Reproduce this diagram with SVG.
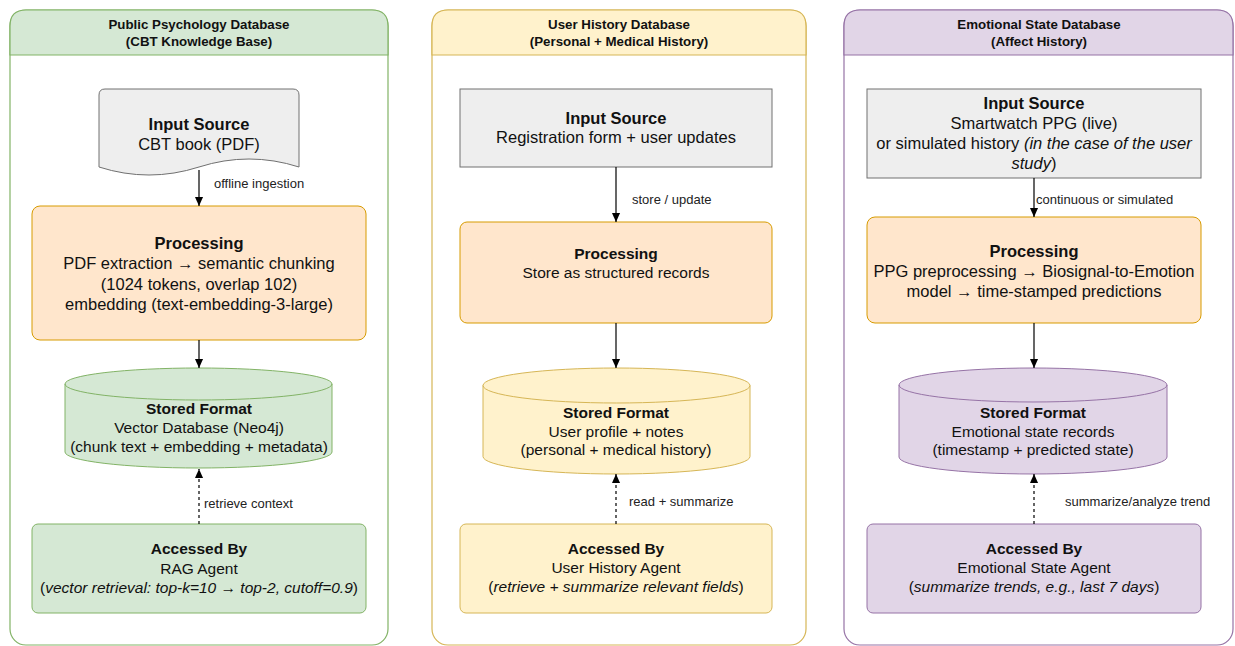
<svg xmlns="http://www.w3.org/2000/svg" width="1235" height="646" viewBox="0 0 1235 646">
  <defs>
    <marker id="arrow" viewBox="0 0 10 10" refX="10" refY="5" markerWidth="9" markerHeight="9" markerUnits="userSpaceOnUse" orient="auto">
      <path d="M0,0.5 L10,5 L0,9.5 Z" fill="#000"/>
    </marker>
    <style>
      text { font-family: "Liberation Sans", Arial, Helvetica, sans-serif; fill: #111; text-anchor: middle; }
      .hdr { font-size: 13.3px; font-weight: bold; }
      .big-b { font-size: 16.5px; font-weight: bold; }
      .big { font-size: 16.5px; }
      .sm-b { font-size: 15.5px; font-weight: bold; }
      .sm { font-size: 15.5px; }
      .lbl { font-size: 13px; text-anchor: start; fill: #222; }
      .it { font-style: italic; }
      .edge { stroke: #000; stroke-width: 1.2; fill: none; marker-end: url(#arrow); }
      .dash { stroke-dasharray: 3 3; }
      .green { fill: #d5e8d4; stroke: #82b366; }
      .yellow { fill: #fff2cc; stroke: #d6b656; }
      .purple { fill: #e1d5e7; stroke: #9673a6; }
      .orange { fill: #ffe6cc; stroke: #d79b00; }
      .gray { fill: #eeeeee; stroke: #707070; }
      .frame { fill: #ffffff; stroke-width: 1.2; }
    </style>
  </defs>

  <!-- Panel 1: Public Psychology Database -->
  <g id="panel-public">
    <rect class="frame" x="10" y="10" width="378" height="635" rx="16" stroke="#82b366"/>
    <path d="M10,55 L10,26 Q10,10 26,10 L372,10 Q388,10 388,26 L388,55 Z" fill="#d5e8d4" stroke="#82b366" stroke-width="1.2"/>
    <text class="hdr" x="199" y="29">Public Psychology Database</text>
    <text class="hdr" x="199" y="46">(CBT Knowledge Base)</text>
  </g>
  <g id="p1-input">
    <path class="gray" d="M99,95 Q99,89 105,89 L293,89 Q299,89 299,95 L299,167 Q249,151 199,167 Q149,183 99,167 Z"/>
    <text class="big-b" x="199" y="130">Input Source</text>
    <text class="big" x="199" y="150">CBT book (PDF)</text>
  </g>
  <g id="p1-processing">
    <rect class="orange" x="32" y="206" width="334" height="134" rx="8"/>
    <text class="big-b" x="199" y="249">Processing</text>
    <text class="big" x="199" y="269">PDF extraction → semantic chunking</text>
    <text class="big" x="199" y="290">(1024 tokens, overlap 102)</text>
    <text class="big" x="199" y="310">embedding (text-embedding-3-large)</text>
  </g>
  <g id="p1-stored">
    <path class="green" d="M65,384 A133.5,16 0 0 1 332,384 L332,452 A133.5,16 0 0 1 65,452 Z"/>
    <path d="M65,384 A133.5,16 0 0 0 332,384" fill="none" stroke="#82b366"/>
    <text class="sm-b" x="199" y="414">Stored Format</text>
    <text class="sm" x="199" y="433">Vector Database (Neo4j)</text>
    <text class="sm" x="199" y="452">(chunk text + embedding + metadata)</text>
  </g>
  <g id="p1-access">
    <rect class="green" x="32" y="524" width="334" height="89" rx="6"/>
    <text class="sm-b" x="199" y="554">Accessed By</text>
    <text class="sm" x="199" y="574">RAG Agent</text>
    <text class="sm" x="199" y="593">(<tspan class="it">vector retrieval: top-k=10 → top-2, cutoff=0.9</tspan>)</text>
  </g>

  <!-- Panel 2: User History Database -->
  <g id="panel-user">
    <rect class="frame" x="432" y="10" width="374" height="635" rx="16" stroke="#d6b656"/>
    <path d="M432,55 L432,26 Q432,10 448,10 L790,10 Q806,10 806,26 L806,55 Z" fill="#fff2cc" stroke="#d6b656" stroke-width="1.2"/>
    <text class="hdr" x="619" y="29">User History Database</text>
    <text class="hdr" x="619" y="46">(Personal + Medical History)</text>
  </g>
  <g id="p2-input">
    <rect class="gray" x="460" y="89" width="312" height="78"/>
    <text class="big-b" x="616" y="124">Input Source</text>
    <text class="big" x="616" y="143">Registration form + user updates</text>
  </g>
  <g id="p2-processing">
    <rect class="orange" x="460" y="222" width="312" height="101" rx="7"/>
    <text class="sm-b" x="616" y="259">Processing</text>
    <text class="sm" x="616" y="278">Store as structured records</text>
  </g>
  <g id="p2-stored">
    <path class="yellow" d="M483,385.5 A133.5,17.5 0 0 1 750,385.5 L750,456.5 A133.5,17.5 0 0 1 483,456.5 Z"/>
    <path d="M483,385.5 A133.5,17.5 0 0 0 750,385.5" fill="none" stroke="#d6b656"/>
    <text class="sm-b" x="616" y="418">Stored Format</text>
    <text class="sm" x="616" y="437">User profile + notes</text>
    <text class="sm" x="616" y="455">(personal + medical history)</text>
  </g>
  <g id="p2-access">
    <rect class="yellow" x="460" y="524" width="312" height="89" rx="6"/>
    <text class="sm-b" x="616" y="554">Accessed By</text>
    <text class="sm" x="616" y="573">User History Agent</text>
    <text class="sm" x="616" y="592">(<tspan class="it">retrieve + summarize relevant fields</tspan>)</text>
  </g>

  <!-- Panel 3: Emotional State Database -->
  <g id="panel-emotion">
    <rect class="frame" x="844" y="10" width="389" height="635" rx="16" stroke="#9673a6"/>
    <path d="M844,55 L844,26 Q844,10 860,10 L1217,10 Q1233,10 1233,26 L1233,55 Z" fill="#e1d5e7" stroke="#9673a6" stroke-width="1.2"/>
    <text class="hdr" x="1039" y="29">Emotional State Database</text>
    <text class="hdr" x="1039" y="46">(Affect History)</text>
  </g>
  <g id="p3-input">
    <rect class="gray" x="867" y="89" width="334" height="89"/>
    <text class="big-b" x="1034" y="109">Input Source</text>
    <text class="big" x="1034" y="129">Smartwatch PPG (live)</text>
    <text class="big" x="1034" y="149">or simulated history <tspan class="it">(in the case of the user</tspan></text>
    <text class="big" x="1034" y="169"><tspan class="it">study</tspan>)</text>
  </g>
  <g id="p3-processing">
    <rect class="orange" x="867" y="217" width="334" height="106" rx="8"/>
    <text class="big-b" x="1034" y="257">Processing</text>
    <text class="big" x="1034" y="277">PPG preprocessing → Biosignal-to-Emotion</text>
    <text class="big" x="1034" y="297">model → time-stamped predictions</text>
  </g>
  <g id="p3-stored">
    <path class="purple" d="M899,385 A134,17 0 0 1 1167,385 L1167,457 A134,17 0 0 1 899,457 Z"/>
    <path d="M899,385 A134,17 0 0 0 1167,385" fill="none" stroke="#9673a6"/>
    <text class="sm-b" x="1033" y="418">Stored Format</text>
    <text class="sm" x="1033" y="437">Emotional state records</text>
    <text class="sm" x="1033" y="455">(timestamp + predicted state)</text>
  </g>
  <g id="p3-access">
    <rect class="purple" x="867" y="524" width="334" height="89" rx="6"/>
    <text class="sm-b" x="1034" y="554">Accessed By</text>
    <text class="sm" x="1034" y="573">Emotional State Agent</text>
    <text class="sm" x="1034" y="592">(<tspan class="it">summarize trends, e.g., last 7 days</tspan>)</text>
  </g>

  <!-- Connectors -->
  <g id="connectors">
    <line class="edge" x1="199" y1="170" x2="199" y2="206"/>
    <text class="lbl" x="214" y="188">offline ingestion</text>
    <line class="edge" x1="199" y1="340" x2="199" y2="368"/>
    <line class="edge dash" x1="199" y1="524" x2="199" y2="469"/>
    <text class="lbl" x="204" y="508">retrieve context</text>

    <line class="edge" x1="616" y1="167" x2="616" y2="222"/>
    <text class="lbl" x="632" y="204">store / update</text>
    <line class="edge" x1="616" y1="323" x2="616" y2="368"/>
    <line class="edge dash" x1="616" y1="524" x2="616" y2="474"/>
    <text class="lbl" x="629" y="506">read + summarize</text>

    <line class="edge" x1="1034" y1="178" x2="1034" y2="217"/>
    <text class="lbl" x="1036" y="204">continuous or simulated</text>
    <line class="edge" x1="1034" y1="323" x2="1034" y2="368"/>
    <line class="edge dash" x1="1034" y1="524" x2="1034" y2="474"/>
    <text class="lbl" x="1065" y="506">summarize/analyze trend</text>
  </g>
</svg>
